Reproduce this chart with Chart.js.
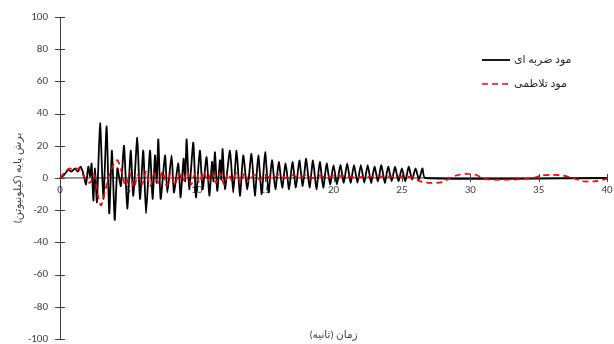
<!DOCTYPE html>
<html>
<head>
<meta charset="utf-8">
<script src="https://cdn.jsdelivr.net/npm/chart.js@4.4.1/dist/chart.umd.min.js"></script>
<style>
html,body{margin:0;padding:0;background:#fff;}
#wrap{width:614px;height:344px;position:relative;}
</style>
</head>
<body>
<div id="wrap"><canvas id="c" width="614" height="344"></canvas></div>
<script>
// ---- data ----
const seriesLabels = ["مود ضربه ای", "مود تلاطمی"];
const xTitle = "زمان (ثانیه)";
const yTitle = "برش پایه (کیلونیوتن)";
const xTickValues = [0, 5, 10, 15, 20, 25, 30, 35, 40];
const yTickValues = [-100, -80, -60, -40, -20, 0, 20, 40, 60, 80, 100];

const impulsiveTime = [0, 0.3, 0.6, 0.85, 1.1, 1.3, 1.5, 1.7, 1.9, 2.07, 2.2, 2.31, 2.44, 2.56, 2.7,
  2.93, 3.17, 3.41, 3.6, 3.8, 4.0, 4.2, 4.45, 4.68, 4.92, 5.17, 5.36, 5.65, 5.85, 6.09, 6.29,
  6.58, 6.77, 6.95, 7.07, 7.19, 7.36, 7.68, 7.85, 8.16, 8.33, 8.65, 8.82, 9.04, 9.15, 9.26,
  9.45, 9.75, 9.94, 10.23, 10.43, 10.72, 10.92, 11.12, 11.22, 11.33, 11.5, 11.7, 11.8, 11.89,
  12.06, 12.43, 12.67, 12.91, 13.16, 13.4, 13.7,
  14.0, 14.25, 14.5, 14.75, 15.0, 15.25, 15.5, 15.75, 16.0, 16.25, 16.5, 16.75, 17.0, 17.25,
  17.5, 17.75, 18.0, 18.25, 18.5, 18.75, 19.0, 19.25, 19.5, 19.75, 20.0, 20.25, 20.5, 20.75,
  21.0, 21.25, 21.5, 21.75, 22.0, 22.25, 22.5, 22.75, 23.0, 23.25, 23.5, 23.75, 24.0, 24.25,
  24.5, 24.75, 25.0, 25.25, 25.5, 25.75, 26.0, 26.25, 26.5, 26.7, 40];
const impulsiveShear = [0, 2, 5, 4, 6, 4, 7, 3, -4, 7, 1, 9, -14, 6, -15,
  34, -13, 32, -22, 17, -26, 6, -5, 20, -19, 17, -11, 25, -13, 17, -22,
  17, -13, 14, -3, 24, -13, 14, -9, 14, -9, 9, -12, 12, -2, 24,
  -7, 22, -12, 17, -7, 13, -11, 10, -2, 16, -8, 11, -1, 18,
  -7, 17, -9, 17, -11, 14, -7,
  15, -11, 14, -10, 16, -9, 11, -7, 10, -6, 9, -7, 10, -6,
  11, -5, 12, -6, 11, -7, 10, -6, 9, -4, 8, -4, 8, -3,
  9, -3, 8, -3, 8, -3, 8, -3, 7, -2, 8, -3, 7, -2,
  7, -2, 6, -2, 7, -1, 6, -1, 6, 0, 0];

const sloshingTime = [0, 0.4, 0.7, 1.0, 1.3, 1.6, 1.9, 2.2, 2.5, 2.75, 3.0, 3.3, 3.6, 3.9, 4.2,
  4.5, 4.8, 5.1, 5.4, 5.7, 6.0, 6.3, 6.6, 6.9, 7.2, 7.5, 7.8, 8.1, 8.4, 8.7, 9.0, 9.3, 9.6,
  9.9, 10.2, 10.5, 10.8, 11.1, 11.4, 11.7, 12.0, 12.3, 12.6, 12.9, 13.2, 13.5, 13.8, 14.2,
  14.6, 15.0, 15.5, 16.0, 16.5, 17.0, 17.5, 18.0, 18.5, 19.0, 19.5, 20.0, 21, 22, 23, 24, 25,
  25.8, 26.3, 27, 28, 28.5, 29.2, 29.9, 30.4, 30.9, 31.5, 33, 34, 34.6, 35.2, 36, 36.8, 37.5,
  38.2, 39.2, 40];
const sloshingShear = [0, 4, 6, 5, 6, 3, -1, -3, 2, -10, -17, -8, 2, 8, 11,
  4, -5, 3, -6, 2, -4, 4, -5, 3, -3, 4, -5, 3, -4, 3, -2, 4, -4,
  3, -3, 4, -2, 4, -3, 3, -4, 3, -2, 3, -3, 3, -2, 2,
  -1, 2, -1, 2, 0, 2, 0, 2, 0, 1.5, 0, 1.5, 1, 0.5, 1, 1, 1,
  0.5, -2, -3, -2.5, 0, 2, 2.5, 2, 0, -1, -1, -0.5, 0, 1.5, 2, 1.5, 0,
  -2, -2, -0.5];

// ---- chart ----
const FONT = "Carlito, Calibri, 'Open Sans', 'DejaVu Sans', sans-serif";
const toPts = (xs, ys) => xs.map((x, i) => ({ x: x, y: ys[i] }));

const crossTicks = {
  id: 'crossTicks',
  afterDatasetsDraw(chart) {
    const ctx = chart.ctx, xs = chart.scales.x, ys = chart.scales.y;
    ctx.save();
    ctx.strokeStyle = '#404040'; ctx.lineWidth = 1;
    const ax = xs.getPixelForValue(0);
    yTickValues.forEach(v => {
      const p = Math.round(ys.getPixelForValue(v)) + 0.5;
      ctx.beginPath(); ctx.moveTo(ax - 5, p); ctx.lineTo(ax + 5, p); ctx.stroke();
    });
    const ay = ys.getPixelForValue(0);
    xTickValues.forEach(v => {
      if (v === 0) return;
      const p = Math.round(xs.getPixelForValue(v)) + 0.5;
      ctx.beginPath(); ctx.moveTo(p, ay - 4); ctx.lineTo(p, ay + 4); ctx.stroke();
    });
    ctx.restore();
  }
};

const legendAndTitles = {
  id: 'legendAndTitles',
  afterDraw(chart) {
    const ctx = chart.ctx, ca = chart.chartArea;
    ctx.save();
    const ds = chart.data.datasets;
    const rows = [{ d: ds[0], y: 60 }, { d: ds[1], y: 84 }];
    ctx.font = "11px " + FONT;
    ctx.textBaseline = 'middle';
    ctx.textAlign = 'left';
    rows.forEach(r => {
      ctx.strokeStyle = r.d.borderColor;
      ctx.lineWidth = r.d.borderWidth;
      ctx.setLineDash(r.d.borderDash || []);
      ctx.beginPath(); ctx.moveTo(482, r.y); ctx.lineTo(510, r.y); ctx.stroke();
      ctx.setLineDash([]);
      ctx.fillStyle = '#262626';
      ctx.fillText(r.d.label, 514, r.y);
    });
    ctx.font = "10.5px " + FONT;
    ctx.textAlign = 'center';
    ctx.fillStyle = '#404040';
    ctx.fillText(xTitle, (ca.left + ca.right) / 2, 335);
    ctx.restore();
  }
};

new Chart(document.getElementById('c'), {
  type: 'line',
  data: {
    datasets: [
      {
        label: seriesLabels[0],
        data: toPts(impulsiveTime, impulsiveShear),
        borderColor: '#000000',
        borderWidth: 1.8,
        pointRadius: 0,
        tension: 0.2,
        fill: false,
        order: 1
      },
      {
        label: seriesLabels[1],
        data: toPts(sloshingTime, sloshingShear),
        borderColor: '#ff0000',
        borderWidth: 1.7,
        borderDash: [6, 4],
        pointRadius: 0,
        tension: 0.3,
        fill: false,
        order: 0
      }
    ]
  },
  options: {
    responsive: false,
    animation: false,
    layout: { padding: { top: 17, right: 7, bottom: 5, left: 0 } },
    plugins: { legend: { display: false }, tooltip: { enabled: false } },
    scales: {
      x: {
        type: 'linear',
        position: { y: 0 },
        min: 0, max: 40,
        afterBuildTicks: s => { s.ticks = xTickValues.map(v => ({ value: v })); },
        afterFit: s => { s.height = 0; s.paddingLeft = 0; s.paddingRight = 0; },
        ticks: { color: '#404040', font: { size: 11, family: FONT }, padding: 6, maxRotation: 0, autoSkip: false },
        grid: { display: false, drawTicks: false },
        border: { display: true, color: '#868686', width: 1.8 }
      },
      y: {
        type: 'linear',
        min: -100, max: 100,
        afterBuildTicks: s => { s.ticks = yTickValues.map(v => ({ value: v })); },
        afterFit: s => { s.width = 60; s.paddingTop = 0; s.paddingBottom = 0; },
        ticks: { color: '#404040', font: { size: 11, family: FONT }, padding: 12, autoSkip: false },
        grid: { display: false, drawTicks: false },
        border: { display: true, color: '#404040', width: 1 },
        title: { display: true, text: yTitle, color: '#404040', font: { size: 11, family: FONT }, padding: { top: 12, bottom: 0 } }
      }
    }
  },
  plugins: [crossTicks, legendAndTitles]
});
</script>
</body>
</html>
